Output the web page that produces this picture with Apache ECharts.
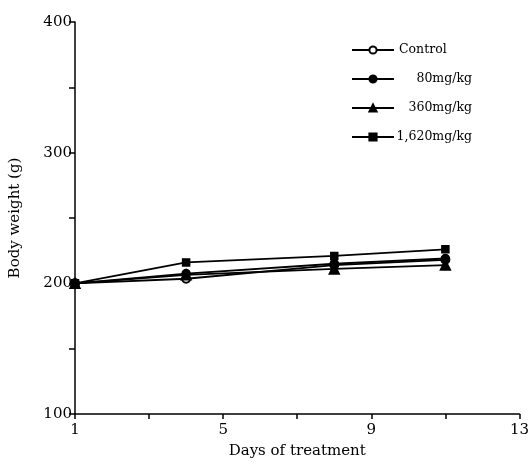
<!DOCTYPE html>
<html><head><meta charset="utf-8">
<script src="https://cdn.jsdelivr.net/npm/echarts@6/dist/echarts.min.js"></script>
<style>html,body{margin:0;padding:0;background:#fff}#c{width:532px;height:467px}</style>
</head><body><div id="c"></div>
<script>
const days = [1, 4, 8, 11];
const seriesNames = ['Control', '80mg/kg', '360mg/kg', '1,620mg/kg'];
const control = [200, 203.5, 214, 218];
const mg80 = [200, 207.5, 215, 219];
const mg360 = [200, 206.5, 211, 214];
const mg1620 = [200, 216, 221, 226];
const xTickLabels = ['1', '5', '9', '13'];
const yTickLabels = ['100', '200', '300', '400'];

const font = 'DejaVu Serif';
const symbols = ['emptyCircle', 'circle', 'triangle', 'rect'];
const sizes = [8, 8, 10, 7];
const values = [control, mg80, mg360, mg1620];

const chart = echarts.init(document.getElementById('c'));
chart.setOption({
  animation: false,
  backgroundColor: '#fff',
  grid: { left: 75, right: 10, top: 22, bottom: 53 },
  legend: {
    orient: 'vertical',
    left: 346, top: 36,
    itemWidth: 42, itemHeight: 9,
    itemGap: 11,
    data: seriesNames,
    textStyle: {
      fontFamily: font, fontSize: 12.5, color: '#000', lineHeight: 18,
      rich: {
        l: { fontFamily: font, fontSize: 12.5, color: '#000', width: 73, align: 'left', lineHeight: 18 },
        r: { fontFamily: font, fontSize: 12.5, color: '#000', width: 73, align: 'right', lineHeight: 18 }
      }
    },
    formatter: n => n === 'Control' ? '{l|' + n + '}' : '{r|' + n + '}'
  },
  xAxis: {
    type: 'value', min: 0, max: 12, interval: 4,
    name: 'Days of treatment', nameLocation: 'middle', nameGap: 30,
    nameTextStyle: { fontFamily: font, fontSize: 15, color: '#000' },
    axisLine: { lineStyle: { color: '#000', width: 1.5 } },
    axisTick: { lineStyle: { color: '#000', width: 1.5 }, length: 5 },
    minorTick: { show: true, splitNumber: 2, length: 5, lineStyle: { color: '#000', width: 1.5 } },
    axisLabel: { fontFamily: font, fontSize: 15, color: '#000', margin: 9,
      formatter: v => xTickLabels[v / 4] },
    splitLine: { show: false }
  },
  yAxis: {
    type: 'value', min: 100, max: 400, interval: 100,
    name: 'Body weight (g)', nameLocation: 'middle', nameGap: 52, nameRotate: 90,
    nameTextStyle: { fontFamily: font, fontSize: 15, color: '#000' },
    axisLine: { show: true, lineStyle: { color: '#000', width: 1.5 } },
    axisTick: { show: true, lineStyle: { color: '#000', width: 1.5 }, length: 6 },
    minorTick: { show: true, splitNumber: 2, length: 6, lineStyle: { color: '#000', width: 1.5 } },
    axisLabel: { fontFamily: font, fontSize: 15, color: '#000', margin: 3,
      formatter: v => yTickLabels[(v - 100) / 100] },
    splitLine: { show: false }
  },
  series: seriesNames.map((n, i) => ({
    name: n, type: 'line',
    data: days.map((d, j) => [d - 1, values[i][j]]),
    symbol: symbols[i], symbolSize: sizes[i],
    lineStyle: { color: '#000', width: 1.8 },
    itemStyle: { color: '#000', borderColor: '#000', borderWidth: 1.5 },
    emphasis: { disabled: true }
  }))
});
</script></body></html>
